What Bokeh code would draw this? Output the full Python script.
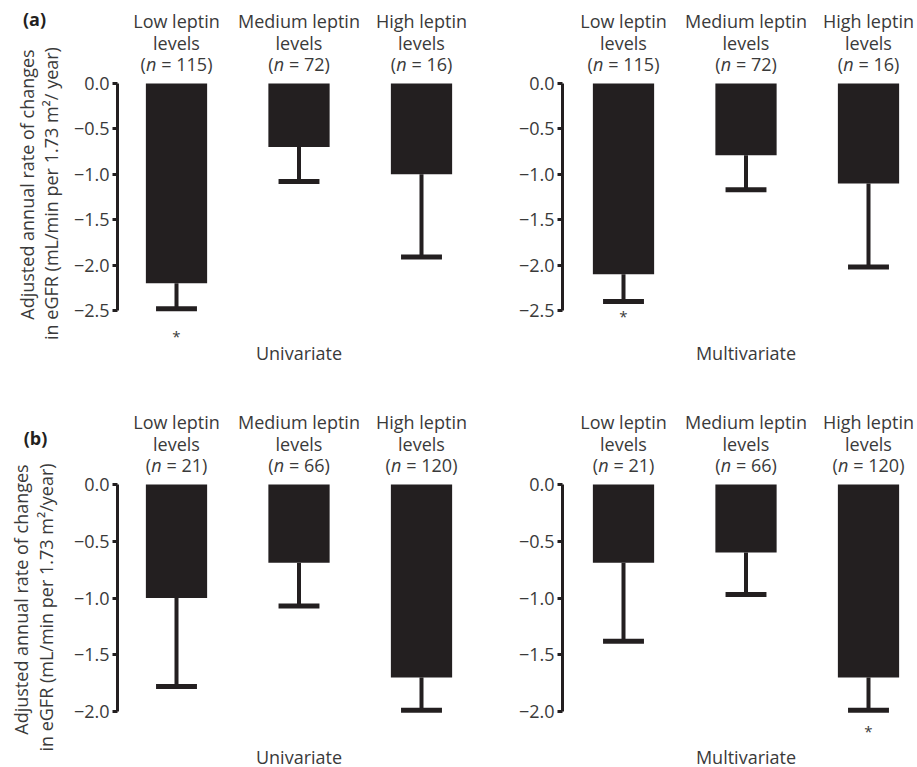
import math
from bokeh.plotting import figure
from bokeh.models import Range1d, FixedTicker, ColumnDataSource
from bokeh.layouts import column, row
from bokeh.embed import file_html
from bokeh.resources import INLINE
from bokeh.core.properties import value

# ---------------- data ----------------
groups = ["Low leptin", "Medium leptin", "High leptin"]
n_a = [115, 72, 16]
n_b = [21, 66, 120]

a_uni_mean = [-2.2, -0.7, -1.0]
a_uni_err = [-2.48, -1.08, -1.91]
a_uni_star = [True, False, False]

a_multi_mean = [-2.1, -0.79, -1.1]
a_multi_err = [-2.4, -1.17, -2.02]
a_multi_star = [True, False, False]

b_uni_mean = [-1.0, -0.69, -1.7]
b_uni_err = [-1.78, -1.07, -1.99]
b_uni_star = [False, False, False]

b_multi_mean = [-0.69, -0.6, -1.7]
b_multi_err = [-1.38, -0.97, -1.99]
b_multi_star = [False, False, True]

ticks_a = [0.0, -0.5, -1.0, -1.5, -2.0, -2.5]
tick_labels_a = ["0.0", "\u22120.5", "\u22121.0", "\u22121.5", "\u22122.0", "\u22122.5"]
ticks_b = [0.0, -0.5, -1.0, -1.5, -2.0]
tick_labels_b = ["0.0", "\u22120.5", "\u22121.0", "\u22121.5", "\u22122.0"]

ytitle_a = ["Adjusted annual rate of changes", "in eGFR (mL/min per 1.73 m\u00b2/ year)"]
ytitle_b = ["Adjusted annual rate of changes", "in eGFR (mL/min per 1.73 m\u00b2/year)"]
panel_tags = ["(a)", "(b)"]

# ---------------- style ----------------
FONT = "Open Sans"
INK = "#231f20"
TXT = "#3a3a3a"
FS = "18px"
PX_X = 122.5      # px per category step
FS_PX = 18.0


def title_fig(width, height, lines, line_pos, tag, tag_pos):
    p = figure(width=width, height=height, x_range=Range1d(0, width),
               y_range=Range1d(height, 0), output_backend="svg",
               toolbar_location=None, x_axis_location=None, y_axis_location=None,
               min_border_left=0, min_border_right=0, min_border_top=0,
               min_border_bottom=0)
    p.grid.visible = False
    p.outline_line_color = None
    p.text(x=[pos[0] for pos in line_pos], y=[pos[1] for pos in line_pos],
           text=lines, angle=math.pi / 2, text_align="center",
           text_baseline="middle", text_font=value(FONT), text_font_size=FS,
           text_color=TXT)
    p.text(x=[tag_pos[0]], y=[tag_pos[1]], text=[tag], text_align="center",
           text_baseline="middle", text_font=value(FONT), text_font_size=FS,
           text_font_style="bold", text_color=INK)
    return p


def panel(width, height, left_border, first_px, y0_px, px_per_y,
          means, errs, stars, ns, ticks, tick_labels, method,
          method_dy, star_dy):
    x_start = 1 - first_px / PX_X
    x_end = x_start + (width - left_border) / PX_X
    y_top = y0_px / px_per_y
    y_bot = -(height - y0_px) / px_per_y
    p = figure(width=width, height=height,
               x_range=Range1d(x_start, x_end), y_range=Range1d(y_bot, y_top),
               output_backend="svg", toolbar_location=None,
               x_axis_location=None,
               min_border_left=left_border, min_border_right=0,
               min_border_top=0, min_border_bottom=0)
    p.grid.visible = False
    p.outline_line_color = None

    ax = p.yaxis[0]
    ax.ticker = FixedTicker(ticks=ticks)
    ax.major_label_overrides = {t: l for t, l in zip(ticks, tick_labels)}
    ax.bounds = (min(ticks), max(ticks))
    ax.axis_line_width = 3
    ax.axis_line_color = INK
    ax.major_tick_line_width = 3
    ax.major_tick_line_color = INK
    ax.major_tick_out = 5
    ax.major_tick_in = 0
    ax.minor_tick_line_color = None
    ax.major_label_standoff = 3
    ax.major_label_text_font = FONT
    ax.major_label_text_font_size = FS
    ax.major_label_text_color = TXT

    xs = list(range(1, len(means) + 1))
    cap = 0.167
    src = ColumnDataSource(dict(
        x=xs, mean=means, err=errs,
        cx0=[x - cap for x in xs], cx1=[x + cap for x in xs],
        grp=groups, lv=["levels"] * len(xs),
    ))
    p.vbar(x="x", top=0, bottom="mean", width=0.5, fill_color=INK,
           line_color=None, source=src)
    p.segment(x0="x", y0="mean", x1="x", y1="err", line_width=4,
              line_color=INK, source=src)
    p.segment(x0="cx0", y0="err", x1="cx1", y1="err", line_width=5,
              line_color=INK, source=src)

    tkw = dict(text_font=value(FONT), text_font_size=FS, text_color=TXT,
               text_baseline="middle")
    p.text(x="x", y=0, text="grp", y_offset=-63, text_align="center",
           source=src, **tkw)
    p.text(x="x", y=0, text="lv", y_offset=-41, text_align="center",
           source=src, **tkw)

    # "(n = 115)" with italic n
    w_par = 0.296 * FS_PX
    w_n = 0.60 * FS_PX
    w_sp = 0.26 * FS_PX
    w_dig = 0.572 * FS_PX
    rests, n_c, par_x, rest_x = [], [], [], []
    for n in ns:
        rest = "= %d)" % n
        w_rest = w_dig + w_sp + len(str(n)) * w_dig + w_par
        total = w_par + w_n + w_sp + w_rest
        c = -total / 2 + w_par + w_n / 2
        rests.append(rest)
        n_c.append(c)
        par_x.append(c - w_n / 2)
        rest_x.append(c + w_n / 2 + w_sp)
    nsrc = ColumnDataSource(dict(x=xs, rest=rests, nc=n_c, px=par_x, rx=rest_x,
                                 par=["("] * len(xs), nn=["n"] * len(xs)))
    p.text(x="x", y=0, text="par", x_offset="px", y_offset=-20,
           text_align="right", source=nsrc, **tkw)
    p.text(x="x", y=0, text="nn", x_offset="nc", y_offset=-20,
           text_align="center", text_font_style="italic", source=nsrc, **tkw)
    p.text(x="x", y=0, text="rest", x_offset="rx", y_offset=-20,
           text_align="left", source=nsrc, **tkw)

    # significance stars
    sx = [x for x, s in zip(xs, stars) if s]
    sy = [e for e, s in zip(errs, stars) if s]
    if sx:
        p.text(x=sx, y=sy, text=["*"] * len(sx), y_offset=star_dy,
               text_align="center", text_baseline="middle",
               text_font=value(FONT), text_font_size="15px", text_color=TXT)

    # method label
    p.text(x=[2], y=[0], text=[method], y_offset=method_dy,
           text_align="center", **tkw)
    return p


TOP_H = 380
BOT_H = 387
T_W = 66
L_W = 439
R_W = 412
PXY_A = 90.8
PXY_B = 113.5

ta = title_fig(T_W, TOP_H, ytitle_a, [(26, 184), (50, 193)], panel_tags[0], (34, 18))
a1 = panel(L_W, TOP_H, 51, 59, 83, PXY_A, a_uni_mean, a_uni_err, a_uni_star,
           n_a, ticks_a, tick_labels_a, "Univariate", 269, 27)
a2 = panel(R_W, TOP_H, 57, 61, 83, PXY_A, a_multi_mean, a_multi_err, a_multi_star,
           n_a, ticks_a, tick_labels_a, "Multivariate", 269, 15)
tb = title_fig(T_W, BOT_H, ytitle_b, [(20, 219), (45, 227)], panel_tags[1], (35, 57))
b1 = panel(L_W, BOT_H, 51, 59, 104, PXY_B, b_uni_mean, b_uni_err, b_uni_star,
           n_b, ticks_b, tick_labels_b, "Univariate", 272, 20)
b2 = panel(R_W, BOT_H, 57, 61, 104, PXY_B, b_multi_mean, b_multi_err, b_multi_star,
           n_b, ticks_b, tick_labels_b, "Multivariate", 272, 21)

layout = column(row(ta, a1, a2), row(tb, b1, b2))
open("out.html", "w").write(file_html(layout, INLINE))
